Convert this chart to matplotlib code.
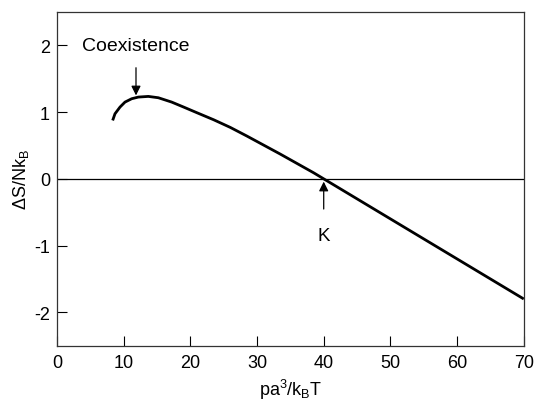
import matplotlib
matplotlib.use("Agg")
import matplotlib.pyplot as plt

plt.rcParams['font.family'] = ['Liberation Sans', 'DejaVu Sans']
plt.rcParams['mathtext.fontset'] = 'custom'
plt.rcParams['mathtext.rm'] = 'Liberation Sans'
plt.rcParams['mathtext.it'] = 'Liberation Sans'
plt.rcParams['axes.unicode_minus'] = False

# data
pressure = [8.35, 8.7, 9.45, 10.2, 11.2, 12.2, 13.7, 15.2, 17.2, 19.0,
            21.0, 23.5, 26.0, 28.5, 31.0, 33.5, 36.0, 38.5, 40.0,
            45.0, 50.0, 55.0, 60.0, 65.0, 70.0]
delta_s = [0.875, 0.975, 1.075, 1.15, 1.2, 1.225, 1.235, 1.215, 1.15, 1.075,
           0.99, 0.885, 0.77, 0.64, 0.505, 0.37, 0.23, 0.09, 0.0,
           -0.3, -0.6, -0.9, -1.2, -1.5, -1.8]
x_ticks = [0, 10, 20, 30, 40, 50, 60, 70]
y_ticks = [-2, -1, 0, 1, 2]
coexistence_x = 11.85
coexistence_y = 1.25
k_x = 40.0
k_y = 0.0

fig = plt.figure(figsize=(5.35, 4.02), dpi=100)
ax = fig.add_axes([0.1065, 0.1376, 0.8725, 0.8301])

ax.plot(pressure, delta_s, color='black', lw=2.0, solid_capstyle='butt',
        solid_joinstyle='round')
ax.axhline(0, color='black', lw=0.9)

ax.set_xlim(0, 70)
ax.set_ylim(-2.5, 2.5)
ax.set_xticks(x_ticks)
ax.set_yticks(y_ticks)
ax.tick_params(direction='in', length=7, width=0.8, labelsize=13, colors='black')
ax.tick_params(axis='y', pad=5)
ax.tick_params(axis='x', pad=6)
for s in ax.spines.values():
    s.set_linewidth(0.9)
    s.set_color('#333333')

ax.set_xlabel(r'pa$^3$/k$_\mathrm{B}$T', fontsize=13, labelpad=4)
ax.set_ylabel(r'$\Delta$S/Nk$_\mathrm{B}$', fontsize=13, labelpad=2)

ax.annotate('Coexistence', xy=(coexistence_x, coexistence_y),
            xytext=(coexistence_x, 2.0), ha='center', va='center', fontsize=14,
            arrowprops=dict(arrowstyle='-|>', color='black', lw=0.9,
                            mutation_scale=14, shrinkA=8, shrinkB=0))
ax.annotate('K', xy=(k_x, k_y), xytext=(k_x, -0.85), ha='center', va='center',
            fontsize=13.5,
            arrowprops=dict(arrowstyle='-|>', color='black', lw=0.9,
                            mutation_scale=14, shrinkA=11, shrinkB=2))

fig.savefig('out.png', dpi=100)
